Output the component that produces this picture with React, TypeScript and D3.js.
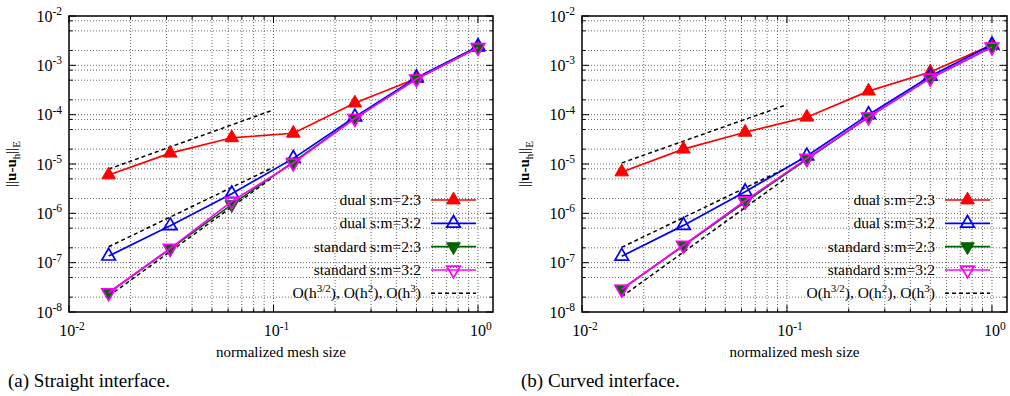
import React from 'react';
import * as d3 from 'd3';

// mesh sizes h = 1/64 ... 1
const meshSize = [1 / 64, 1 / 32, 1 / 16, 1 / 8, 1 / 4, 1 / 2, 1];

const seriesNames = ['dual s:m=2:3', 'dual s:m=3:2', 'standard s:m=2:3', 'standard s:m=3:2'];
const seriesColors = ['#ff0000', '#0000ff', '#006400', '#ff00ff'];
const seriesUp = [true, true, false, false];
const seriesFilled = [true, false, true, false];

// (a) straight interface
const straightDual23 = [6.0e-6, 1.66e-5, 3.4e-5, 4.2e-5, 1.72e-4, 5.4e-4, 2.3e-3];
const straightDual32 = [1.36e-7, 5.6e-7, 2.5e-6, 1.3e-5, 9.0e-5, 5.6e-4, 2.4e-3];
const straightStd23 = [2.45e-8, 1.9e-7, 1.5e-6, 1.1e-5, 8.4e-5, 5.3e-4, 2.3e-3];
const straightStd32 = [2.45e-8, 1.95e-7, 1.75e-6, 1.05e-5, 8.4e-5, 5.3e-4, 2.3e-3];

// (b) curved interface
const curvedDual23 = [6.9e-6, 2.0e-5, 4.4e-5, 8.9e-5, 3.0e-4, 7.3e-4, 2.6e-3];
const curvedDual32 = [1.35e-7, 5.7e-7, 2.75e-6, 1.45e-5, 1.0e-4, 6.0e-4, 2.6e-3];
const curvedStd23 = [2.9e-8, 2.2e-7, 1.7e-6, 1.25e-5, 9.0e-5, 5.5e-4, 2.35e-3];
const curvedStd32 = [2.9e-8, 2.25e-7, 1.8e-6, 1.3e-5, 9.0e-5, 5.5e-4, 2.35e-3];

// reference slopes O(h^3/2), O(h^2), O(h^3): values at h = 1/64 and h = 0.1
const refRange = [1 / 64, 0.1];
const straightRef = [[7.9e-6, 1.25e-4], [2.1e-7, 8.6e-6], [2.1e-8, 5.5e-6]];
const curvedRef = [[1.05e-5, 1.6e-4], [2.05e-7, 8.4e-6], [2.04e-8, 5.35e-6]];

const xTickValues = [0.01, 0.1, 1];
const xTickExp = ['-2', '-1', '0'];
const yTickValues = [1e-8, 1e-7, 1e-6, 1e-5, 1e-4, 1e-3, 1e-2];
const yTickExp = ['-8', '-7', '-6', '-5', '-4', '-3', '-2'];
const xMinor = [2, 3, 4, 5, 6, 7, 8, 9];
const yMinor = [2, 5, 8];

const captions = ['(a) Straight interface.', '(b) Curved interface.'];

const FONT = '"Liberation Serif", "Times New Roman", Times, serif';
const TOP = 16;
const BOTTOM = 312;

const triangle = d3.symbol(d3.symbolTriangle, 80)() as string;

function Marker({ x, y, i }: { x: number; y: number; i: number }) {
  const c = seriesColors[i];
  return (
    <path
      d={triangle}
      transform={`translate(${x},${y}) rotate(${seriesUp[i] ? 0 : 180})`}
      fill={seriesFilled[i] ? c : 'none'}
      stroke={c}
      strokeWidth={seriesFilled[i] ? 1 : 1.7}
    />
  );
}

function Panel({ x0, x1, series, refs, caption }: { x0: number; x1: number; series: number[][]; refs: number[][]; caption: string }) {
  const x = d3.scaleLog().domain([0.01, 1.184]).range([x0, x1]);
  const y = d3.scaleLog().domain([1e-8, 1e-2]).range([BOTTOM, TOP]);

  const xMinorVals: number[] = [];
  [0.01, 0.1].forEach((d) => xMinor.forEach((m) => xMinorVals.push(d * m)));
  const yMinorVals: number[] = [];
  yTickValues.slice(0, -1).forEach((d) => yMinor.forEach((m) => yMinorVals.push(d * m)));

  const line = d3.line<[number, number]>().x((d) => x(d[0])).y((d) => y(d[1]));
  const grid = { stroke: '#000', strokeWidth: 0.8, strokeDasharray: '1,2', opacity: 0.75 };
  const legendY = [200, 223.3, 246.7, 270, 293.3];

  return (
    <g>
      {/* grid */}
      {[...xMinorVals, 0.1, 1].map((v, k) => (
        <line key={'gx' + k} x1={x(v)} x2={x(v)} y1={TOP} y2={BOTTOM} {...grid} />
      ))}
      {[...yMinorVals, ...yTickValues.slice(1, -1)].map((v, k) => (
        <line key={'gy' + k} x1={x0} x2={x1} y1={y(v)} y2={y(v)} {...grid} />
      ))}

      {/* ticks */}
      {xTickValues.map((v, k) => (
        <g key={'tx' + k}>
          <line x1={x(v)} x2={x(v)} y1={BOTTOM} y2={BOTTOM - 7} stroke="#000" strokeWidth={1} />
          <line x1={x(v)} x2={x(v)} y1={TOP} y2={TOP + 7} stroke="#000" strokeWidth={1} />
        </g>
      ))}
      {xMinorVals.map((v, k) => (
        <g key={'mx' + k}>
          <line x1={x(v)} x2={x(v)} y1={BOTTOM} y2={BOTTOM - 3.5} stroke="#000" strokeWidth={1} />
          <line x1={x(v)} x2={x(v)} y1={TOP} y2={TOP + 3.5} stroke="#000" strokeWidth={1} />
        </g>
      ))}
      {yTickValues.map((v, k) => (
        <g key={'ty' + k}>
          <line x1={x0} x2={x0 + 7} y1={y(v)} y2={y(v)} stroke="#000" strokeWidth={1} />
          <line x1={x1} x2={x1 - 7} y1={y(v)} y2={y(v)} stroke="#000" strokeWidth={1} />
        </g>
      ))}
      {yMinorVals.map((v, k) => (
        <g key={'my' + k}>
          <line x1={x0} x2={x0 + 3.5} y1={y(v)} y2={y(v)} stroke="#000" strokeWidth={1} />
          <line x1={x1} x2={x1 - 3.5} y1={y(v)} y2={y(v)} stroke="#000" strokeWidth={1} />
        </g>
      ))}

      {/* tick labels */}
      {yTickValues.map((v, k) => (
        <text key={'ly' + k} x={x0 - 7} y={y(v) + 5.5} textAnchor="end" fontSize={16} fontFamily={FONT}>
          10<tspan dy={-6.5} fontSize={11.5}>{yTickExp[k]}</tspan>
        </text>
      ))}
      {xTickValues.map((v, k) => (
        <text key={'lx' + k} x={x(v) + 3} y={336} textAnchor="middle" fontSize={16} fontFamily={FONT}>
          10<tspan dy={-6.5} fontSize={11.5}>{xTickExp[k]}</tspan>
        </text>
      ))}

      {/* axis titles */}
      <text x={(x0 + x1) / 2} y={357} textAnchor="middle" fontSize={15} fontFamily={FONT}>normalized mesh size</text>
      <text transform={`translate(${x0 - 53},${(TOP + BOTTOM) / 2}) rotate(-90)`} textAnchor="middle" fontSize={15} fontFamily={FONT}>
        ||<tspan fontWeight="bold">u-u</tspan>
        <tspan dy={3.5} fontSize={11}>h</tspan>
        <tspan dy={-3.5}>||</tspan>
        <tspan dy={3.5} fontSize={11}>E</tspan>
      </text>

      {/* reference slopes */}
      {refs.map((r, k) => (
        <path key={'ref' + k} d={line([[refRange[0], r[0]], [refRange[1], r[1]]]) as string} fill="none" stroke="#000" strokeWidth={1.5} strokeDasharray="4,3" />
      ))}

      {/* series */}
      {series.map((vals, i) => (
        <g key={'s' + i}>
          <path d={line(meshSize.map((h, j) => [h, vals[j]]) as [number, number][]) as string} fill="none" stroke={seriesColors[i]} strokeWidth={1.7} />
          {meshSize.map((h, j) => (
            <Marker key={j} x={x(h)} y={y(vals[j])} i={i} />
          ))}
        </g>
      ))}

      {/* legend */}
      {seriesNames.map((name, i) => (
        <g key={'lg' + i}>
          <text x={x1 - 72} y={legendY[i] + 5} textAnchor="end" fontSize={15.5} fontFamily={FONT}>{name}</text>
          <line x1={x1 - 62} x2={x1 - 17} y1={legendY[i]} y2={legendY[i]} stroke={seriesColors[i]} strokeWidth={1.7} />
          <Marker x={x1 - 39.5} y={legendY[i]} i={i} />
        </g>
      ))}
      <text x={x1 - 72} y={legendY[4] + 5} textAnchor="end" fontSize={15.5} fontFamily={FONT}>
        O(h<tspan dy={-6} fontSize={11}>3/2</tspan><tspan dy={6}>), O(h</tspan><tspan dy={-6} fontSize={11}>2</tspan><tspan dy={6}>), O(h</tspan><tspan dy={-6} fontSize={11}>3</tspan><tspan dy={6}>)</tspan>
      </text>
      <line x1={x1 - 62} x2={x1 - 17} y1={legendY[4]} y2={legendY[4]} stroke="#000" strokeWidth={1.5} strokeDasharray="4,3" />

      {/* frame */}
      <rect x={x0} y={TOP} width={x1 - x0} height={BOTTOM - TOP} fill="none" stroke="#000" strokeWidth={1.5} />

      <text x={x0 - 61} y={387} fontSize={19} fontFamily={FONT}>{caption}</text>
    </g>
  );
}

export default function App() {
  return (
    <svg width={1010} height={396} style={{ position: 'absolute', left: 0, top: 0, background: '#fff' }}>
      <rect width={1010} height={396} fill="#fff" />
      <Panel x0={69} x1={493} series={[straightDual23, straightDual32, straightStd23, straightStd32]} refs={straightRef} caption={captions[0]} />
      <Panel x0={582} x1={1007} series={[curvedDual23, curvedDual32, curvedStd23, curvedStd32]} refs={curvedRef} caption={captions[1]} />
    </svg>
  );
}
